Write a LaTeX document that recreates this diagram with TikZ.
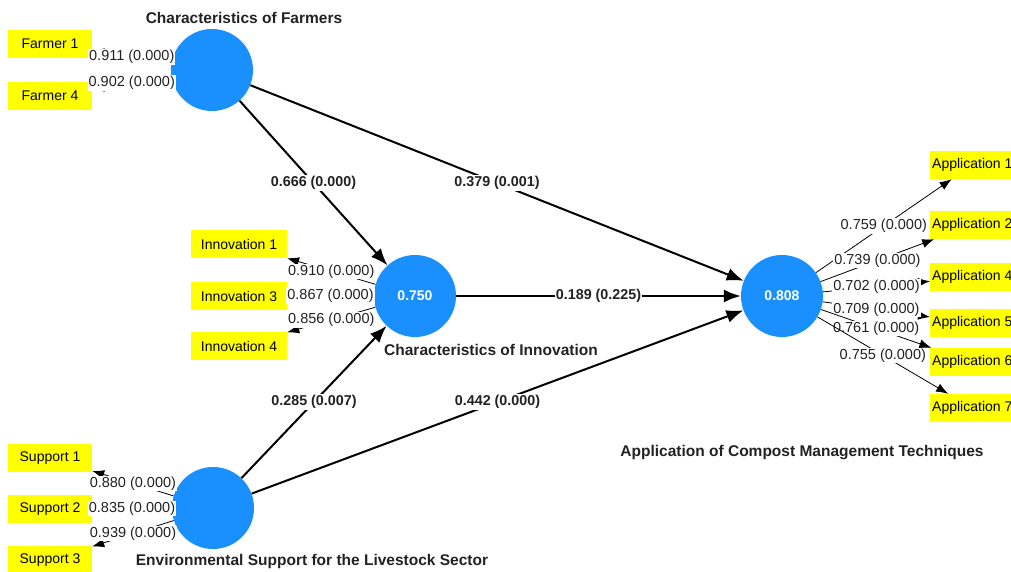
\documentclass[tikz,border=0pt]{standalone}
\usepackage{fontspec}
\setmainfont{Liberation Sans}
\usetikzlibrary{arrows.meta,positioning}
\definecolor{plsLV}{HTML}{1A90FF}
\definecolor{plsInd}{HTML}{FFFF00}
\definecolor{plsTxt}{HTML}{222222}
\tikzset{
  latent/.style={
    circle, fill=plsLV, minimum size=82pt, inner sep=0pt,
    font=\fontsize{14}{16}\selectfont\bfseries, text=white
  },
  indicator/.style={fill=plsInd, minimum height=28pt, inner sep=2pt, font=\fontsize{14}{16}\selectfont},
  farmbox/.style={indicator, minimum width=84pt},
  innobox/.style={indicator, minimum width=96pt},
  appbox/.style={indicator, anchor=west},
  lvname/.style={font=\fontsize{15.5}{17}\selectfont\bfseries, text=plsTxt},
  structural/.style={-{Latex[length=17pt,width=13pt]}, line width=2pt},
  loading/.style={-{Latex[length=12pt,width=9pt]}, line width=0.8pt},
  coef/.style={fill=white, inner sep=1pt, font=\fontsize{14.3}{16}\selectfont\bfseries, text=plsTxt},
  ldlabel/.style={fill=white, inner sep=1pt, font=\fontsize{14.5}{16}\selectfont, text=plsTxt}
}

\begin{document}
\begin{tikzpicture}[x=1pt, y=-1pt]
  \useasboundingbox (0,0) rectangle (1011,572);
  % latent variables
  \node[latent] (farm) at (212,70) {};
  \node[latent] (inno) at (415,296) {0.750};
  \node[latent] (supp) at (213,508) {};
  \node[latent] (appl) at (782,296) {0.808};
  \node[lvname] (farmname) at (244,18) {Characteristics of Farmers};
  \node[lvname] (innoname) at (491,350) {Characteristics of Innovation};
  \node[lvname] (suppname) at (312,561) {Environmental Support for the Livestock Sector};
  \node[lvname] (applname) at (802,453) {Application of Compost Management Techniques};
  % indicators
  \node[farmbox] (f1) at (50,44) {Farmer 1};
  \node[farmbox] (f4) at (50,96) {Farmer 4};
  \node[innobox] (i1) at (239,244) {Innovation 1};
  \node[innobox] (i3) at (239,296) {Innovation 3};
  \node[innobox] (i4) at (239,346) {Innovation 4};
  \node[farmbox] (s1) at (50,458) {Support 1};
  \node[farmbox] (s2) at (50,509) {Support 2};
  \node[farmbox] (s3) at (50,560) {Support 3};
  \node[appbox] (a1) at (930,165) {Application 1};
  \node[appbox] (a2) at (930,225) {Application 2};
  \node[appbox] (a4) at (930,277) {Application 4};
  \node[appbox] (a5) at (930,323) {Application 5};
  \node[appbox] (a6) at (930,362) {Application 6};
  \node[appbox] (a7) at (930,408) {Application 7};
  % outer loadings
  \draw[loading] (farm) -- node[ldlabel] {0.911 (0.000)} (f1);
  \draw[loading] (farm) -- node[ldlabel] {0.902 (0.000)} (f4);
  \draw[loading] (inno) -- node[ldlabel] {0.910 (0.000)} (i1);
  \draw[loading] (inno) -- node[ldlabel] {0.867 (0.000)} (i3);
  \draw[loading] (inno) -- node[ldlabel] {0.856 (0.000)} (i4);
  \draw[loading] (supp) -- node[ldlabel] {0.880 (0.000)} (s1);
  \draw[loading] (supp) -- node[ldlabel] {0.835 (0.000)} (s2);
  \draw[loading] (supp) -- node[ldlabel] {0.939 (0.000)} (s3);
  \draw[loading] (appl) -- node[ldlabel] {0.759 (0.000)} (a1);
  \draw[loading] (appl) -- node[ldlabel] {0.739 (0.000)} (a2);
  \draw[loading] (appl) -- node[ldlabel] {0.702 (0.000)} (a4);
  \draw[loading] (appl) -- node[ldlabel] {0.709 (0.000)} (a5);
  \draw[loading] (appl) -- node[ldlabel] {0.761 (0.000)} (a6);
  \draw[loading] (appl) -- node[ldlabel] {0.755 (0.000)} (a7);
  % inner model
  \draw[structural] (farm) -- node[coef] {0.666 (0.000)} (inno);
  \draw[structural] (farm) -- node[coef] {0.379 (0.001)} (appl);
  \draw[structural] (inno) -- node[coef] {0.189 (0.225)} (appl);
  \draw[structural] (supp) -- node[coef] {0.285 (0.007)} (inno);
  \draw[structural] (supp) -- node[coef] {0.442 (0.000)} (appl);
\end{tikzpicture}
\end{document}
